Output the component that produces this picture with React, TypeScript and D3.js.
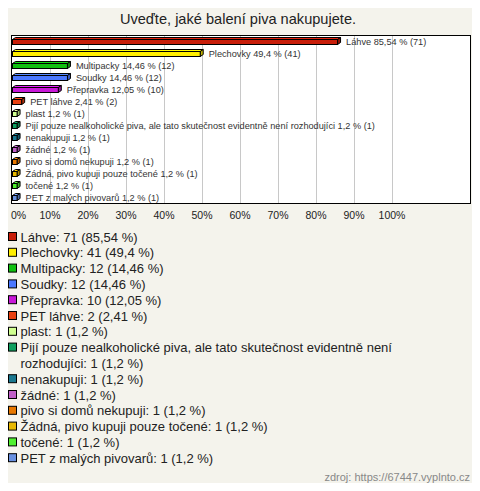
import React from "react";
import * as d3 from "d3";

const title = "Uveďte, jaké balení piva nakupujete.";
const categories = [
  "Láhve",
  "Plechovky",
  "Multipacky",
  "Soudky",
  "Přepravka",
  "PET láhve",
  "plast",
  "Pijí pouze nealkoholické piva, ale tato skutečnost evidentně není rozhodujíci",
  "nenakupuji",
  "žádné",
  "pivo si domů nekupuji",
  "Žádná, pivo kupuji pouze točené",
  "točené",
  "PET z malých pivovarů",
];
const counts = [71, 41, 12, 12, 10, 2, 1, 1, 1, 1, 1, 1, 1, 1];
const percents = [85.54, 49.4, 14.46, 14.46, 12.05, 2.41, 1.2, 1.2, 1.2, 1.2, 1.2, 1.2, 1.2, 1.2];
const colors = [
  "#c81e0a", "#ffee00", "#10c010", "#4a78ff", "#c818d8", "#e84010", "#d0ff90",
  "#10a060", "#1a7890", "#c060c8", "#e87800", "#e8b800", "#50f030", "#6890e0",
];
const xTicks = [0, 10, 20, 30, 40, 50, 60, 70, 80, 90, 100];
const legendLines: string[][] = [
  ["Láhve: 71 (85,54 %)"],
  ["Plechovky: 41 (49,4 %)"],
  ["Multipacky: 12 (14,46 %)"],
  ["Soudky: 12 (14,46 %)"],
  ["Přepravka: 10 (12,05 %)"],
  ["PET láhve: 2 (2,41 %)"],
  ["plast: 1 (1,2 %)"],
  ["Pijí pouze nealkoholické piva, ale tato skutečnost evidentně není", "rozhodujíci: 1 (1,2 %)"],
  ["nenakupuji: 1 (1,2 %)"],
  ["žádné: 1 (1,2 %)"],
  ["pivo si domů nekupuji: 1 (1,2 %)"],
  ["Žádná, pivo kupuji pouze točené: 1 (1,2 %)"],
  ["točené: 1 (1,2 %)"],
  ["PET z malých pivovarů: 1 (1,2 %)"],
];

const fmt = (v: number) => String(v).replace(".", ",");

export default function App() {
  const W = 480, H = 491;
  const plot = { x0: 11, x1: 470, y0: 35, y1: 203 };
  const x = d3.scaleLinear().domain([0, 100]).range([12, 392]);
  const y = d3.scaleBand<number>().domain(d3.range(categories.length)).range([plot.y0, plot.y1]);
  const font = "'Liberation Sans', Arial, sans-serif";
  const d = 3; // depth

  let lineIdx = 0;
  const legendRows = legendLines.map((lines, i) => {
    const start = lineIdx;
    lineIdx += lines.length;
    return { i, lines, start };
  });
  const lh = 15.8;
  const ly0 = 237;

  return (
    <div style={{ margin: "-8px", width: W, height: H }}>
      <svg width={W} height={H} style={{ display: "block" }}>
        <rect x={0.5} y={0.5} width={W - 1} height={H - 1} fill="#f4f3ec" stroke="#333" />
        <text x={238} y={24} textAnchor="middle" fontFamily={font} fontSize={14.6} fill="#222">{title}</text>
        <rect x={plot.x0 + 0.5} y={plot.y0 + 0.5} width={plot.x1 - plot.x0} height={plot.y1 - plot.y0} fill="#fff" stroke="none" />
        {xTicks.slice(1).map((t) => (
          <line key={t} x1={Math.round(x(t)) + 0.5} x2={Math.round(x(t)) + 0.5} y1={plot.y0} y2={plot.y1} stroke="#c8c8c8" />
        ))}
        <rect x={plot.x0 + 0.5} y={plot.y0 + 0.5} width={plot.x1 - plot.x0} height={plot.y1 - plot.y0} fill="none" stroke="#000" />
        {categories.map((c, i) => {
          const cy = Math.round((y(i) as number) + y.bandwidth() / 2) + 0.5;
          const x0 = x(0) + 0.5;
          const x1 = x(percents[i]) + 0.5;
          const top = cy - 2, bot = cy + 3;
          const col = colors[i];
          const dark = d3.color(col)!.darker(0.8).toString();
          const light = d3.color(col)!.brighter(0.4).toString();
          return (
            <g key={i}>
              <polygon points={`${x0},${top} ${x0 + d},${top - 2} ${x1 + d},${top - 2} ${x1},${top}`} fill={light} stroke="#000" strokeWidth={1} />
              <polygon points={`${x1},${top} ${x1 + d},${top - 2} ${x1 + d},${bot - 2} ${x1},${bot}`} fill={dark} stroke="#000" strokeWidth={1} />
              <rect x={x0} y={top} width={x1 - x0} height={bot - top} fill={col} stroke="#000" strokeWidth={1} />
              <text x={x(percents[i]) + 9} y={cy + 3} fontFamily={font} fontSize={9.2} fill="#333">
                {`${c} ${fmt(percents[i])} % (${counts[i]})`}
              </text>
            </g>
          );
        })}
        {xTicks.map((t) => (
          <text key={t} x={t === 0 ? 11 : x(t)} y={219} textAnchor={t === 0 ? "start" : "middle"} fontFamily={font} fontSize={10.5} fill="#222">
            {`${t}%`}
          </text>
        ))}
        {legendRows.map(({ i, lines, start }) => (
          <g key={i}>
            <rect x={8.5} y={ly0 + start * lh - 4.5} width={8} height={8} fill={colors[i]} stroke="#000" />
            {lines.map((ln, k) => (
              <text key={k} x={20.5} y={ly0 + (start + k) * lh + 4.5} fontFamily={font} fontSize={13} fill="#222">{ln}</text>
            ))}
          </g>
        ))}
        <text x={470} y={481} textAnchor="end" fontFamily={font} fontSize={11} fill="#888">zdroj: https://67447.vyplnto.cz</text>
      </svg>
    </div>
  );
}
